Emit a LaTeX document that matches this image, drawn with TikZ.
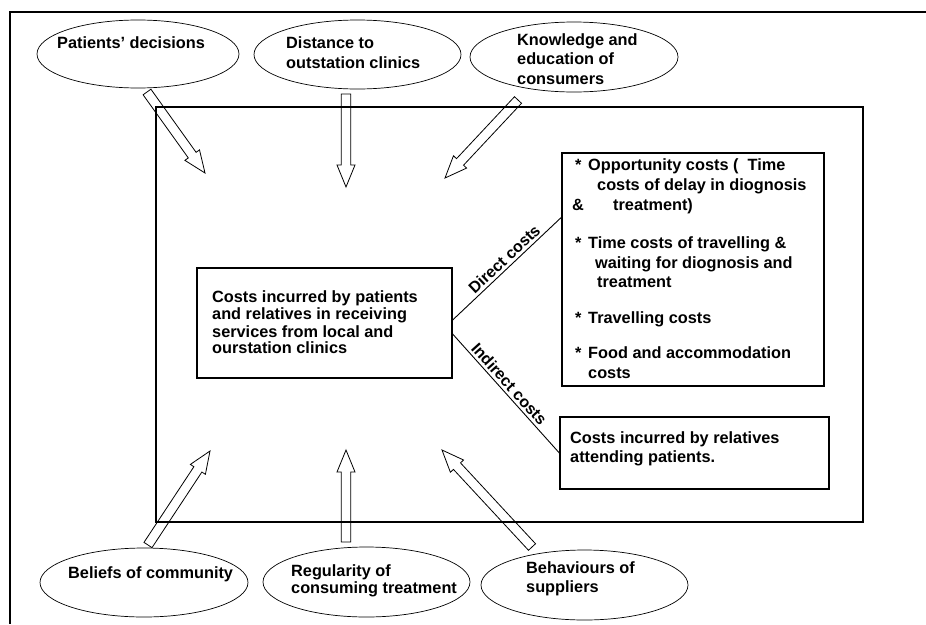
\documentclass[tikz,border=0pt]{standalone}
\usepackage{fontspec}
\setmainfont{Liberation Sans}
\usetikzlibrary{shapes.geometric,calc}
\tikzset{
  frameline/.style={line width=1.4pt},
  bigbox/.style={draw,line width=1.6pt,inner sep=0pt,rectangle},
  costbox/.style={draw,line width=1.3pt,inner sep=0pt,rectangle},
  factor/.style={draw,ellipse,line width=0.7pt,inner sep=0pt},
  blockarrow/.style={draw,line width=0.8pt,line join=miter},
  conn/.style={draw,line width=0.9pt},
  txt/.style={inner sep=0pt,anchor=base west,font=\bfseries\fontsize{16.3}{17}\selectfont},
  lbl/.style={inner sep=2.5pt,font=\bfseries\fontsize{16}{17}\selectfont},
}
\newcommand\hollowarrow[3]{%
  \coordinate (#1h) at ($(#3)!22pt!(#2)$);
  \draw[blockarrow] ($(#2)!4.8pt!90:(#3)$) -- ($(#1h)!4.8pt!90:(#3)$)
     -- ($(#1h)!9pt!90:(#3)$) -- (#3) -- ($(#1h)!9pt!-90:(#3)$)
     -- ($(#1h)!4.8pt!-90:(#3)$) -- ($(#2)!4.8pt!-90:(#3)$) -- cycle;}
\begin{document}
\begin{tikzpicture}[x=1pt,y=-1pt]
\useasboundingbox (0,0) rectangle (926,624);
% outer frame
\coordinate (fr1) at (926,12);
\coordinate (fr2) at (10,12);
\coordinate (fr3) at (10,624);
\draw[frameline] (fr1) -- (fr2) -- (fr3);
% inner box
\node[bigbox,minimum width=707pt,minimum height=415pt] (inner) at (509.5,314.5) {};
% cost boxes
\node[costbox,minimum width=255pt,minimum height=110pt] (cbox) at (324.5,323) {};
\node[costbox,minimum width=262pt,minimum height=233pt] (bbox) at (693,269.5) {};
\node[costbox,minimum width=269pt,minimum height=72pt] (rbox) at (694.5,453) {};
% ellipses
\node[factor,minimum width=202pt,minimum height=68pt] (e1) at (138,54) {};
\node[factor,minimum width=207pt,minimum height=69pt] (e2) at (357.5,54.5) {};
\node[factor,minimum width=208pt,minimum height=70pt] (e3) at (574,57) {};
\node[factor,minimum width=208pt,minimum height=69pt] (e4) at (144,582.5) {};
\node[factor,minimum width=207pt,minimum height=70pt] (e5) at (366.5,582) {};
\node[factor,minimum width=207pt,minimum height=70pt] (e6) at (584.5,585) {};
% ellipse texts
\node[txt] (t1) at (57,48.5) {Patients' decisions};
\node[txt] (t2a) at (286,48.5) {Distance to};
\node[txt] (t2b) at (286,68.5) {outstation clinics};
\node[txt] (t3a) at (517,45) {Knowledge and};
\node[txt] (t3b) at (517,64.5) {education of};
\node[txt] (t3c) at (517,84) {consumers};
\node[txt] (t4) at (68,578.5) {Beliefs of community};
\node[txt] (t5a) at (291,576) {Regularity of};
\node[txt] (t5b) at (291,593) {consuming treatment};
\node[txt] (t6a) at (526,573) {Behaviours of};
\node[txt] (t6b) at (526,592) {suppliers};
% centre box text
\node[txt] (c1) at (212,302.5) {Costs incurred by patients};
\node[txt] (c2) at (212,319) {and relatives in receiving};
\node[txt] (c3) at (212,337) {services from local and};
\node[txt] (c4) at (212,353.5) {ourstation clinics};
% direct cost box text
\node[txt] (b1s) at (575,170.5) {*};
\node[txt] (b1) at (588,170.5) {Opportunity costs (\ \ Time};
\node[txt] (b2) at (597,190.5) {costs of delay in diognosis};
\node[txt] (b3s) at (572,210.5) {\&};
\node[txt] (b3) at (613,210.5) {treatment)};
\node[txt] (b4s) at (575,248.5) {*};
\node[txt] (b4) at (588,248.5) {Time costs of travelling \&};
\node[txt] (b5) at (595,268.5) {waiting for diognosis and};
\node[txt] (b6) at (597,287.5) {treatment};
\node[txt] (b7s) at (575,323.5) {*};
\node[txt] (b7) at (588,323.5) {Travelling costs};
\node[txt] (b8s) at (575,358.5) {*};
\node[txt] (b8) at (588,358.5) {Food and accommodation};
\node[txt] (b9) at (588,378.5) {costs};
% indirect cost box text
\node[txt] (r1) at (570,443) {Costs incurred by relatives};
\node[txt] (r2) at (570,462) {attending patients.};
% connectors
\draw[conn] ([yshift=3pt]cbox.east) -- node[lbl,sloped,above,pos=0.53] {Direct costs} ([yshift=-65pt]bbox.north west);
\draw[conn] ([yshift=-11pt]cbox.east) -- node[lbl,sloped,above,pos=0.47] {Indirect costs} (rbox.west);
% block arrows
\coordinate (a1t) at (147,92);  \coordinate (a1h) at (205,173);
\coordinate (a2t) at (346,94);  \coordinate (a2h) at (346,187);
\coordinate (a3t) at (518,100); \coordinate (a3h) at (445,178);
\coordinate (a4t) at (148,545); \coordinate (a4h) at (210,451);
\coordinate (a5t) at (346,542); \coordinate (a5h) at (346,450);
\coordinate (a6t) at (532,547); \coordinate (a6h) at (442,450);
\hollowarrow{ar1}{a1t}{a1h}
\hollowarrow{ar2}{a2t}{a2h}
\hollowarrow{ar3}{a3t}{a3h}
\hollowarrow{ar4}{a4t}{a4h}
\hollowarrow{ar5}{a5t}{a5h}
\hollowarrow{ar6}{a6t}{a6h}
\end{tikzpicture}
\end{document}
